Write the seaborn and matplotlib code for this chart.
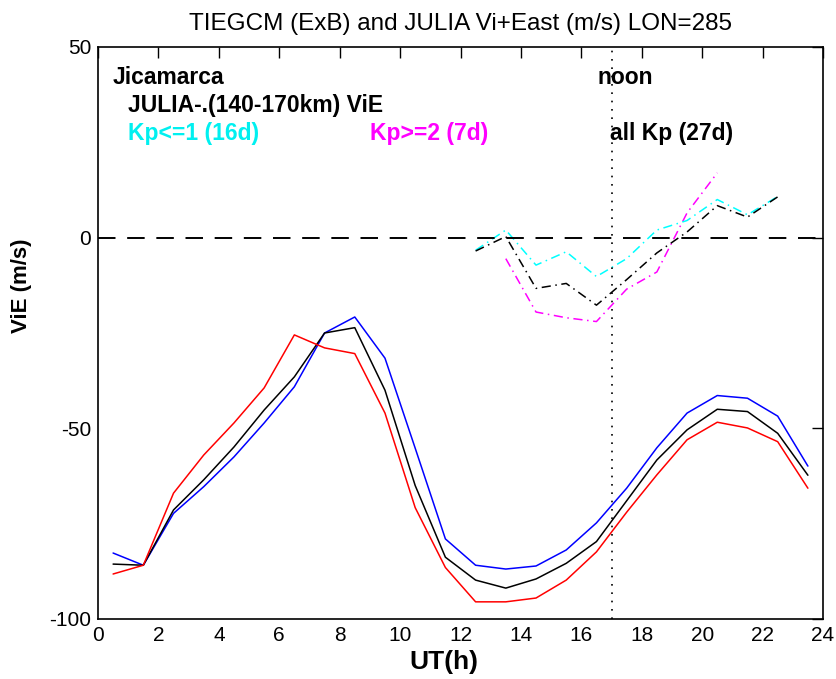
import numpy as np
import pandas as pd
import matplotlib
matplotlib.use("Agg")
import matplotlib.pyplot as plt
import seaborn as sns

# ---- data ----
ut = [0.5, 1.5, 2.5, 3.5, 4.5, 5.5, 6.5, 7.5, 8.5, 9.5, 10.5, 11.5,
      12.5, 13.5, 14.5, 15.5, 16.5, 17.5, 18.5, 19.5, 20.5, 21.5, 22.5, 23.5]
tiegcm_blue = [-82.7, -85.9, -72.3, -65.3, -57.5, -48.6, -39.1, -25.0, -20.8, -31.6, -55.2, -79.0,
               -85.9, -86.9, -86.1, -81.9, -74.8, -65.7, -55.1, -46.0, -41.4, -42.1, -46.8, -59.9]
tiegcm_black = [-85.6, -85.9, -71.4, -63.5, -54.9, -45.2, -36.5, -25.0, -23.6, -40.0, -65.0, -83.8,
                -89.8, -91.9, -89.5, -85.4, -79.7, -69.0, -58.3, -50.4, -45.0, -45.6, -51.3, -62.3]
tiegcm_red = [-88.2, -85.9, -67.0, -57.0, -48.6, -39.4, -25.5, -28.9, -30.4, -46.0, -70.8, -86.5,
              -95.5, -95.5, -94.5, -89.8, -82.4, -72.0, -62.2, -53.0, -48.4, -49.9, -53.5, -65.7]

julia_ut = [12.5, 13.5, 14.5, 15.5, 16.5, 17.5, 18.5, 19.5, 20.5, 21.5, 22.5]
julia_kp_low = [-3.3, 2.0, -7.2, -3.7, -10.2, -5.5, 2.0, 4.5, 10.0, 6.0, 10.8]
julia_all = [-3.5, 0.3, -13.3, -12.0, -17.7, -11.0, -4.0, 1.5, 8.4, 5.4, 10.7]
julia_kp_high_ut = [13.5, 14.5, 15.5, 16.5, 17.5, 18.5, 19.5, 20.5]
julia_kp_high = [-5.5, -19.5, -21.0, -22.0, -13.5, -9.0, 6.5, 17.0]

xticks = [0, 2, 4, 6, 8, 10, 12, 14, 16, 18, 20, 22, 24]
yticks = [-100, -50, 0, 50]

title = "TIEGCM (ExB) and JULIA Vi+East (m/s) LON=285"

# ---- plot ----
sns.set_style("white")
plt.rcParams['font.family'] = ['Liberation Sans', 'DejaVu Sans']
plt.rcParams['axes.unicode_minus'] = False
plt.rcParams['text.color'] = 'black'
plt.rcParams['axes.labelcolor'] = 'black'

fig = plt.figure(figsize=(8.36, 6.79), dpi=100)
ax = fig.add_axes([98/836, 1 - 619/679, (823-98)/836, (619-47)/679])

df_model = pd.DataFrame({"ut": ut, "blue": tiegcm_blue, "black": tiegcm_black, "red": tiegcm_red})
for col, c in [("blue", "#0000ff"), ("black", "black"), ("red", "#ff0000")]:
    sns.lineplot(data=df_model, x="ut", y=col, color=c, lw=1.1, ax=ax)

df_j = pd.DataFrame({"ut": julia_ut, "low": julia_kp_low, "all": julia_all})
df_h = pd.DataFrame({"ut": julia_kp_high_ut, "high": julia_kp_high})
dashdot = (0, (6, 3, 1, 3))
sns.lineplot(data=df_h, x="ut", y="high", color="#ff00ff", lw=1.1, ax=ax, linestyle=dashdot)
sns.lineplot(data=df_j, x="ut", y="low", color="#00ffff", lw=1.1, ax=ax, linestyle=dashdot)
sns.lineplot(data=df_j, x="ut", y="all", color="black", lw=1.1, ax=ax, linestyle=dashdot)

ax.axhline(0, color="black", lw=1.4, linestyle=(0, (9, 6)))
ax.axvline(17, color="black", lw=1.2, linestyle=(0, (1, 4)))

ax.set_xlim(0, 24)
ax.set_ylim(-100, 50)
ax.set_xticks(xticks)
ax.set_yticks(yticks)
ax.tick_params(direction="in", length=8, width=1, top=True, right=True,
               labelsize=15, pad=5, colors="black")
for s in ax.spines.values():
    s.set_color("black")
    s.set_linewidth(1.2)

ax.set_xlabel("UT(h)", fontsize=19, fontweight="bold", color="black")
ax.xaxis.set_label_coords((444 - 98) / 725, -(662 - 619) / 572, transform=ax.transAxes)
ax.xaxis.label.set_va("center")
ax.set_ylabel("ViE (m/s)", fontsize=16, fontweight="bold", color="black")
ax.yaxis.set_label_coords(-(98 - 22) / 725, (619 - 286) / 572, transform=ax.transAxes)
ax.yaxis.label.set_va("center")
ax.set_title(title, fontsize=17.5, pad=12, color="black")

kw = dict(transform=ax.transData, fontsize=16.5, fontweight="bold", va="center", ha="left")
ax.text(0.5, 42, "Jicamarca", color="black", **kw)
ax.text(1.0, 34.6, "JULIA-.(140-170km) ViE", color="black", **kw)
ax.text(1.0, 27.2, "Kp<=1 (16d)", color="#00f0f0", **kw)
ax.text(9.0, 27.2, "Kp>=2 (7d)", color="#ff00ff", **kw)
ax.text(16.95, 27.2, "all Kp (27d)", color="black", **kw)
ax.text(16.55, 42, "noon", color="black", **kw)

fig.savefig("out.png", dpi=100)
